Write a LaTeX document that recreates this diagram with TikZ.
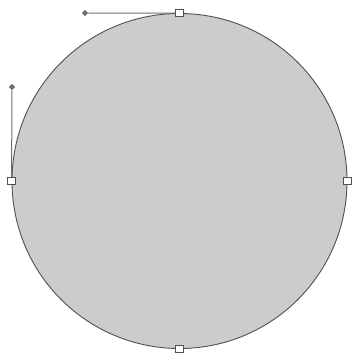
\documentclass[tikz,border=0pt]{standalone}
\usepackage{tikz}
\usetikzlibrary{shapes.geometric, positioning}
\definecolor{shapefill}{RGB}{204,204,204}
\definecolor{shapeline}{RGB}{80,80,80}
\definecolor{handlecolor}{RGB}{110,110,110}

\begin{document}
\begin{tikzpicture}[
    x=1pt, y=-1pt,
    disc/.style={circle, draw=shapeline, fill=shapefill, line width=0.9pt, minimum size=335pt, inner sep=0pt},
    anchorpt/.style={rectangle, draw=shapeline, fill=white, line width=0.8pt, minimum size=7.5pt, inner sep=0pt},
    handletip/.style={diamond, fill=handlecolor, minimum size=6.5pt, inner sep=0pt},
    handle/.style={draw=handlecolor, line width=1pt}
]
\useasboundingbox (0,0) rectangle (351,356);
\node[disc] (circ) at (179.5,181) {};

% handle lines
\node[handletip] (tiptop) at (85,13) {};
\node[handletip] (tipleft) at (12,87) {};
\node[coordinate] (ptop) at (circ.north) {};
\node[coordinate] (pleft) at (circ.west) {};
\draw[handle] (ptop) -- (tiptop);
\draw[handle] (pleft) -- (tipleft);

% anchor points
\node[anchorpt] (atop) at (circ.north) {};
\node[anchorpt] (aleft) at (circ.west) {};
\node[anchorpt] (aright) at (circ.east) {};
\node[anchorpt] (abottom) at (circ.south) {};
\end{tikzpicture}
\end{document}
